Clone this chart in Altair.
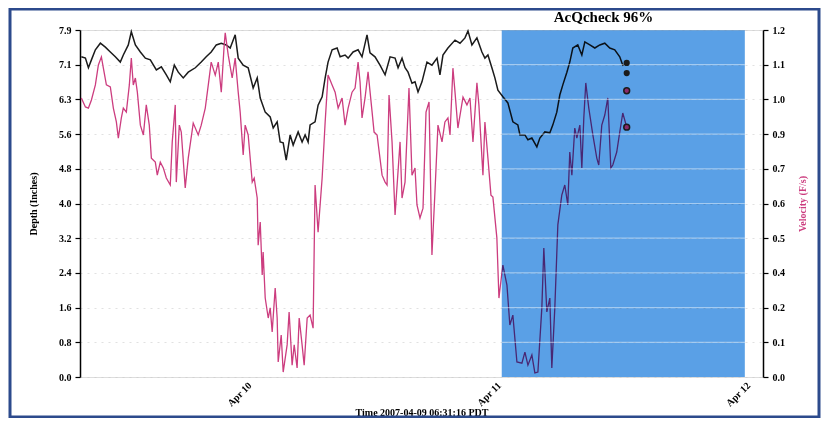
import altair as alt
import pandas as pd

# ---------------- data (hours after 2007-04-10 00:00) ----------------
depth_hours = [
    -15.87, -15.48, -15.19, -14.90, -14.52, -14.04, -13.56, -13.08, -12.60, -12.12,
    -11.83, -11.35, -11.06, -10.67, -10.19, -9.71, -9.23, -8.65, -8.17, -7.69,
    -7.31, -6.92, -6.54, -6.06, -5.58, -4.90, -4.33, -3.85, -3.37, -2.88,
    -2.40, -1.92, -1.54, -1.06, -0.77, -0.29, 0.19, 0.67, 1.06, 1.35,
    1.83, 2.31, 2.60, 2.98, 3.27, 3.56, 3.85, 4.23, 4.52, 5.00,
    5.38, 5.67, 5.96, 6.15, 6.63, 6.92, 7.31, 7.60, 7.88, 8.27,
    8.75, 9.04, 9.52, 9.81, 10.29, 10.77, 11.15, 11.63, 11.92, 12.40,
    12.88, 13.37, 13.85, 14.33, 14.62, 15.00, 15.29, 15.58, 15.96, 16.25,
    16.54, 16.92, 17.40, 17.88, 18.37, 18.65, 18.94, 19.42, 20.10, 20.58,
    21.06, 21.35, 21.73, 22.21, 22.69, 22.98, 23.27, 23.65, 23.94, 24.23,
    24.71, 25.19, 25.67, 26.15, 26.35, 26.83, 27.12, 27.50, 27.98, 28.27,
    28.75, 29.23, 29.52, 29.90, 30.19, 30.48, 30.87, 31.15, 31.44, 31.92,
    32.31, 32.60, 33.08, 33.56, 34.04, 34.52, 35.00, 35.48, 35.96, 36.25,
    36.63,
]
depth_values = [
    7.29, 7.26, 7.04, 7.22, 7.45, 7.60, 7.51, 7.40, 7.29, 7.17,
    7.33, 7.56, 7.86, 7.56, 7.40, 7.26, 7.22, 6.99, 7.06, 6.88,
    6.72, 7.10, 6.94, 6.81, 6.94, 7.04, 7.17, 7.29, 7.40, 7.56,
    7.60, 7.56, 7.49, 7.79, 7.26, 7.10, 7.04, 6.58, 6.81, 6.35,
    6.03, 5.92, 5.67, 5.81, 5.35, 5.33, 4.94, 5.51, 5.28, 5.58,
    5.35, 5.51, 5.35, 5.74, 5.81, 6.19, 6.38, 6.81, 7.17, 7.45,
    7.49, 7.29, 7.33, 7.26, 7.40, 7.45, 7.29, 7.79, 7.38, 7.29,
    7.10, 6.88, 7.29, 7.26, 7.04, 7.26, 7.04, 6.94, 6.69, 6.72,
    6.49, 6.72, 7.17, 7.10, 7.26, 6.88, 7.33, 7.49, 7.67, 7.60,
    7.72, 7.88, 7.56, 7.72, 7.40, 7.26, 7.33, 7.04, 6.81, 6.53,
    6.38, 6.24, 5.81, 5.74, 5.51, 5.51, 5.40, 5.44, 5.24, 5.44,
    5.58, 5.56, 5.74, 6.03, 6.42, 6.65, 6.94, 7.17, 7.49, 7.56,
    7.33, 7.63, 7.56, 7.49, 7.56, 7.60, 7.49, 7.45, 7.29, 7.10,
    7.15,
]

velocity_hours = [
    -15.87, -15.48, -15.19, -14.90, -14.52, -14.23, -13.94, -13.75, -13.46, -13.08,
    -12.79, -12.50, -12.31, -12.02, -11.83, -11.54, -11.25, -11.06, -10.87, -10.67,
    -10.48, -10.19, -9.90, -9.62, -9.33, -9.13, -8.75, -8.56, -8.27, -7.98,
    -7.69, -7.31, -7.12, -6.83, -6.73, -6.44, -6.25, -5.87, -5.58, -5.10,
    -4.62, -4.33, -3.94, -3.65, -3.37, -2.98, -2.69, -2.40, -2.12, -2.02,
    -1.73, -1.35, -1.06, -0.77, -0.58, -0.29, -0.10, 0.19, 0.58, 0.77,
    1.06, 1.15, 1.35, 1.54, 1.63, 1.83, 2.12, 2.31, 2.50, 2.79,
    2.98, 3.08, 3.37, 3.56, 3.94, 4.13, 4.42, 4.62, 4.90, 5.10,
    5.38, 5.58, 5.87, 6.15, 6.44, 6.63, 6.92, 7.31, 7.60, 7.88,
    8.27, 8.56, 8.85, 9.23, 9.52, 9.81, 10.19, 10.48, 10.77, 10.96,
    11.15, 11.44, 11.73, 12.12, 12.31, 12.60, 13.08, 13.37, 13.56, 13.75,
    14.04, 14.33, 14.81, 15.00, 15.29, 15.67, 15.96, 16.25, 16.44, 16.73,
    17.02, 17.31, 17.60, 17.88, 18.17, 18.46, 18.85, 19.13, 19.42, 19.62,
    19.90, 20.10, 20.38, 20.87, 21.25, 21.54, 21.83, 22.21, 22.40, 22.79,
    22.98, 23.27, 23.56, 23.75, 24.13, 24.33, 24.62, 24.71, 25.10, 25.38,
    25.67, 26.06, 26.54, 26.83, 27.12, 27.50, 27.79, 28.08, 28.46, 28.65,
    28.94, 29.23, 29.42, 29.71, 30.00, 30.38, 30.67, 30.96, 31.15, 31.35,
    31.63, 31.83, 32.12, 32.31, 32.50, 32.69, 32.98, 33.37, 33.75, 33.94,
    34.23, 34.52, 34.81, 35.10, 35.29, 35.67, 35.96, 36.25, 36.63,
]
velocity_values = [
    0.965, 0.934, 0.930, 0.958, 1.010, 1.079, 1.107, 1.068, 1.010, 1.003,
    0.930, 0.882, 0.826, 0.896, 0.930, 0.916, 1.010, 1.103, 1.010, 1.034,
    0.985, 0.871, 0.837, 0.941, 0.871, 0.757, 0.743, 0.698, 0.743, 0.723,
    0.688, 0.664, 0.813, 0.941, 0.674, 0.871, 0.847, 0.654, 0.757, 0.878,
    0.837, 0.871, 0.930, 1.010, 1.089, 1.044, 1.089, 0.985, 1.148, 1.190,
    1.113, 1.034, 1.103, 0.985, 0.916, 0.768, 0.871, 0.837, 0.674, 0.688,
    0.619, 0.456, 0.536, 0.353, 0.432, 0.273, 0.204, 0.239, 0.156, 0.308,
    0.204, 0.052, 0.145, 0.017, 0.111, 0.225, 0.041, 0.111, 0.031, 0.204,
    0.111, 0.041, 0.204, 0.214, 0.169, 0.664, 0.501, 0.688, 0.882, 1.044,
    1.010, 0.985, 0.930, 0.965, 0.871, 0.930, 0.985, 0.999, 1.089, 1.020,
    0.896, 0.965, 1.055, 0.916, 0.847, 0.837, 0.698, 0.674, 0.664, 0.975,
    0.813, 0.560, 0.813, 0.619, 0.674, 0.999, 0.698, 0.723, 0.595, 0.550,
    0.584, 0.916, 0.951, 0.422, 0.640, 0.871, 0.813, 0.882, 0.896, 0.837,
    1.068, 0.985, 0.861, 0.968, 0.941, 0.965, 0.813, 1.017, 0.941, 0.698,
    0.882, 0.757, 0.629, 0.622, 0.481, 0.273, 0.363, 0.387, 0.318, 0.180,
    0.214, 0.052, 0.048, 0.086, 0.041, 0.076, 0.014, 0.017, 0.239, 0.446,
    0.225, 0.273, 0.031, 0.239, 0.526, 0.629, 0.664, 0.595, 0.778, 0.698,
    0.861, 0.826, 0.871, 0.723, 0.896, 1.017, 0.930, 0.837, 0.757, 0.733,
    0.871, 0.906, 0.965, 0.723, 0.733, 0.778, 0.847, 0.913, 0.864,
]

# end-of-record markers
marker_hours = 36.63
depth_markers = [7.15, 6.92]
velocity_markers = [0.990, 0.864]

# AcQcheck window
check_start_hours = 24.6
check_end_hours = 48.0
check_title = "AcQcheck 96%"
check_title_hours = 34.4

# axis ticks / labels
depth_ticks = [round(i * 0.79, 2) for i in range(11)]
depth_labels = ["0.0", "0.8", "1.6", "2.4", "3.2", "4.0", "4.8", "5.6", "6.3", "7.1", "7.9"]
velocity_ticks = [round(i * 0.12, 2) for i in range(11)]
velocity_labels = ["0.0", "0.1", "0.2", "0.4", "0.5", "0.6", "0.7", "0.9", "1.0", "1.1", "1.2"]
x_title = "Time 2007-04-09 06:31:16 PDT"

# ---------------- frames ----------------
BASE = pd.Timestamp("2007-04-10 00:00:00")


def to_time(hours):
    return [BASE + pd.Timedelta(hours=h) for h in hours]


depth_df = pd.DataFrame({"time": to_time(depth_hours), "depth": depth_values})
vel_df = pd.DataFrame({"time": to_time(velocity_hours), "velocity": velocity_values})
band_df = pd.DataFrame({
    "time": to_time([check_start_hours]), "end": to_time([check_end_hours]),
    "top": [depth_ticks[-1]], "bottom": [0.0],
})
band_grid_df = pd.DataFrame({
    "time": to_time([check_start_hours] * 10), "end": to_time([check_end_hours] * 10),
    "level": depth_ticks[1:],
})
depth_dot_df = pd.DataFrame({"time": to_time([marker_hours] * 2), "depth": depth_markers})
vel_dot_df = pd.DataFrame({"time": to_time([marker_hours] * 2), "velocity": velocity_markers})
title_df = pd.DataFrame({"time": to_time([check_title_hours]), "label": [check_title]})

# ---------------- styling ----------------
W, H = 683, 347
SERIF = "Liberation Serif"
PINK = "#cc3d7f"
BLUE = "#5aa0e6"
NAVY = "#2c4a8c"

xscale = alt.Scale(domain=[
    alt.DateTime(year=2007, month=4, date=9, hours=8),
    alt.DateTime(year=2007, month=4, date=12, hours=1, minutes=45),
])
xaxis = alt.Axis(
    values=[alt.DateTime(year=2007, month=4, date=d) for d in (10, 11, 12)],
    format="%b %d", labelAngle=315, labelAlign="right", labelBaseline="top",
    labelPadding=3, ticks=False, domain=False, grid=False,
    labelFont=SERIF, labelFontWeight="bold", labelFontSize=10, labelColor="black",
    title=x_title, titleFont=SERIF, titleFontWeight="bold", titleFontSize=10,
    titleColor="black", titleY=30, titleBaseline="top",
)
X = alt.X("time:T", scale=xscale, axis=xaxis)

depth_scale = alt.Scale(domain=[0, 7.9], nice=False, zero=False)
vel_scale = alt.Scale(domain=[0, 1.2], nice=False, zero=False)

common_y = dict(
    labelFont=SERIF, labelFontWeight="bold", labelFontSize=10, labelColor="black",
    titleFont=SERIF, titleFontWeight="bold", titleFontSize=10,
    domainColor="black", domainWidth=1.5, tickColor="black", tickSize=5, tickWidth=1.2,
    labelPadding=4,
)
depth_axis = alt.Axis(
    orient="left", values=depth_ticks,
    labelExpr="[" + ",".join("'%s'" % s for s in depth_labels) + "][round(datum.value/0.79)]",
    title="Depth (Inches)", titleColor="black", titlePadding=20,
    grid=True, gridColor="#c8c8c8", gridDash=[2, 5], gridOpacity=0.55,
    **common_y,
)
vel_axis = alt.Axis(
    orient="right", values=velocity_ticks,
    labelExpr="[" + ",".join("'%s'" % s for s in velocity_labels) + "][round(datum.value/0.12)]",
    title="Velocity (F/s)", titleColor=PINK, titleAngle=270, titlePadding=23,
    grid=False, **common_y,
)

depth_line = alt.Chart(depth_df).mark_line(color="#1b1b1b", strokeWidth=1.5).encode(
    x=X, y=alt.Y("depth:Q", scale=depth_scale, axis=depth_axis)
)
vel_line = alt.Chart(vel_df).mark_line(color=PINK, strokeWidth=1.3).encode(
    x=X, y=alt.Y("velocity:Q", scale=vel_scale, axis=vel_axis)
)
band = alt.Chart(band_df).mark_rect(color=BLUE, blend="multiply").encode(
    x=X, x2="end:T",
    y=alt.Y("top:Q", scale=depth_scale, axis=None), y2="bottom:Q",
)
band_grid = alt.Chart(band_grid_df).mark_rule(color="white", opacity=0.45, strokeWidth=1.2).encode(
    x=X, x2="end:T", y=alt.Y("level:Q", scale=depth_scale, axis=None)
)
depth_dots = alt.Chart(depth_dot_df).mark_circle(color="#1b1b1b", size=38, opacity=1).encode(
    x=X, y=alt.Y("depth:Q", scale=depth_scale, axis=None)
)
vel_dots = alt.Chart(vel_dot_df).mark_point(
    filled=True, fill="#8a2a6a", stroke="#1b1b1b", strokeWidth=1.5, size=34, opacity=1
).encode(x=X, y=alt.Y("velocity:Q", scale=vel_scale, axis=None))

title_text = alt.Chart(title_df).mark_text(
    font=SERIF, fontSize=15, fontWeight="bold", color="black",
    align="center", baseline="alphabetic",
).encode(x=X, y=alt.value(-8), text="label:N")

frame = alt.Chart(pd.DataFrame({"k": [0]})).mark_rect(
    fillOpacity=0, stroke=NAVY, strokeWidth=3
).encode(
    x=alt.value(-70), x2=alt.value(W + 56), y=alt.value(-21), y2=alt.value(H + 40)
)

chart = alt.layer(
    depth_line, vel_line, band, band_grid, depth_dots, vel_dots, title_text, frame
).resolve_scale(
    y="independent"
).properties(
    width=W, height=H,
    autosize=alt.AutoSizeParams(type="none"),
    padding={"left": 72, "top": 22, "right": 58, "bottom": 41},
).configure_view(strokeWidth=0).configure(background="white")

chart.save("out.html", embed_options={"renderer": "svg", "actions": False})
